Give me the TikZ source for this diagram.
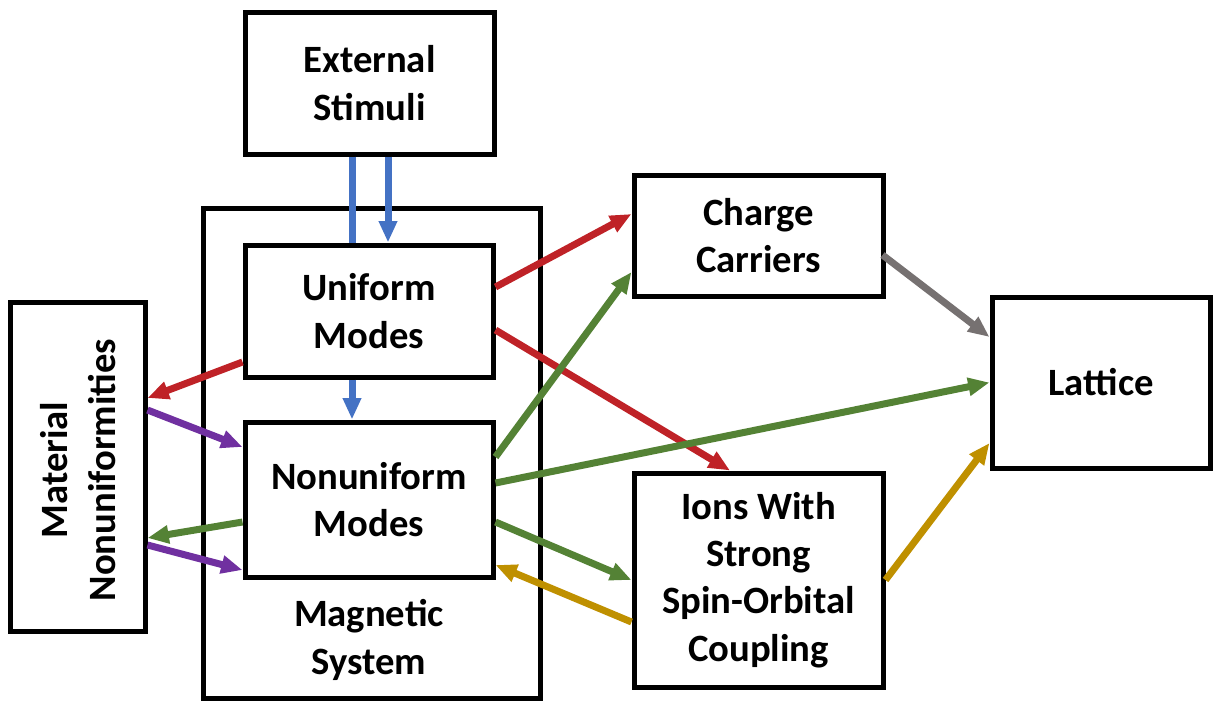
\documentclass[tikz,border=0pt]{standalone}
\usepackage{fontspec}
\setmainfont{Carlito}
\usetikzlibrary{arrows.meta,calc}

\definecolor{cblue}{HTML}{4472C4}
\definecolor{cred}{HTML}{BF2227}
\definecolor{cgreen}{HTML}{548235}
\definecolor{cpurple}{HTML}{7030A0}
\definecolor{cgold}{HTML}{BF9000}
\definecolor{cgray}{HTML}{767171}

\tikzset{
  x=0.75pt, y=-0.75pt,
  box/.style={draw=black, line width=3.75pt, inner sep=0pt,
    align=center, font=\fontsize{29}{35.5}\selectfont\bfseries},
  link/.style={line width=5.25pt, -{Triangle[length=16pt,width=13pt]}},
  plain/.style={line width=5.25pt},
}

\begin{document}
\begin{tikzpicture}
\useasboundingbox (0,0) rectangle (1214,703);

% containers and components
\node[box, minimum width=337*0.75pt, minimum height=490*0.75pt] (mag) at (371.5,453) {};
\node[font=\fontsize{29}{35.5}\selectfont\bfseries, align=center] (magl) at (369,640) {Magnetic\\System};
\node[box, minimum width=249*0.75pt, minimum height=142*0.75pt] (ext) at (369.5,83) {External\\Stimuli};
\node[box, fill=white, minimum width=248*0.75pt, minimum height=132*0.75pt] (uni) at (369,311) {Uniform\\Modes};
\node[box, fill=white, minimum width=248*0.75pt, minimum height=155*0.75pt] (non) at (369,499.5) {Nonuniform\\Modes};
\node[box, minimum width=135*0.75pt, minimum height=329*0.75pt] (mat) at (77.5,466.5) {};
\node[font=\fontsize{29}{35.5}\selectfont\bfseries, align=center, rotate=90] (matl) at (78,470) {Material\\Nonuniformities};
\node[box, minimum width=249*0.75pt, minimum height=121*0.75pt] (chg) at (758.5,235.5) {Charge\\Carriers};
\node[box, minimum width=218*0.75pt, minimum height=171*0.75pt] (lat) at (1101,382.5) {Lattice};
\node[box, minimum width=249*0.75pt, minimum height=214*0.75pt] (ion) at (758.5,580) {Ions With\\Strong\\Spin-Orbital\\Coupling};

% stimuli into the magnetic system
\draw[plain, cblue] ($(ext.south)+(-17.5,0)$) -- ($(uni.north)+(-17,0)$);
\draw[link, cblue] ($(ext.south)+(18.5,0)$) -- ($(uni.north)+(19,0)$);
\draw[link, cblue] ($(uni.south)+(-17,0)$) -- ($(non.north)+(-17,0)$);

% uniform modes
\draw[link, cred] ($(uni.east)+(0,-24)$) -- ($(chg.west)+(0,-21.5)$);
\draw[link, cred] ($(uni.east)+(0,19)$) -- ($(ion.north)+(-28.5,0)$);
\draw[link, cred] ($(uni.west)+(0,51)$) -- ($(mat.east)+(0,-68.5)$);

% material nonuniformities
\draw[link, cpurple] ($(mat.east)+(0,-56.5)$) -- ($(non.west)+(0,-52.5)$);
\draw[link, cpurple] ($(mat.east)+(0,78.5)$) -- ($(non.west)+(0,70.5)$);

% nonuniform modes
\draw[link, cgreen] ($(non.west)+(0,22.5)$) -- ($(mat.east)+(0,71.5)$);
\draw[link, cgreen] ($(non.east)+(0,-42.5)$) -- ($(chg.west)+(0,36.5)$);
\draw[link, cgreen] ($(non.east)+(0,-16.5)$) -- (lat.west);
\draw[link, cgreen] ($(non.east)+(0,22.5)$) -- (ion.west);

% ions
\draw[link, cgold] ($(ion.west)+(0,42)$) -- ($(non.east)+(0,65.5)$);
\draw[link, cgold] (ion.east) -- ($(lat.west)+(0,60.5)$);

% charge carriers
\draw[link, cgray] ($(chg.east)+(-3,19.5)$) -- ($(lat.west)+(0,-45.5)$);
\end{tikzpicture}
\end{document}
